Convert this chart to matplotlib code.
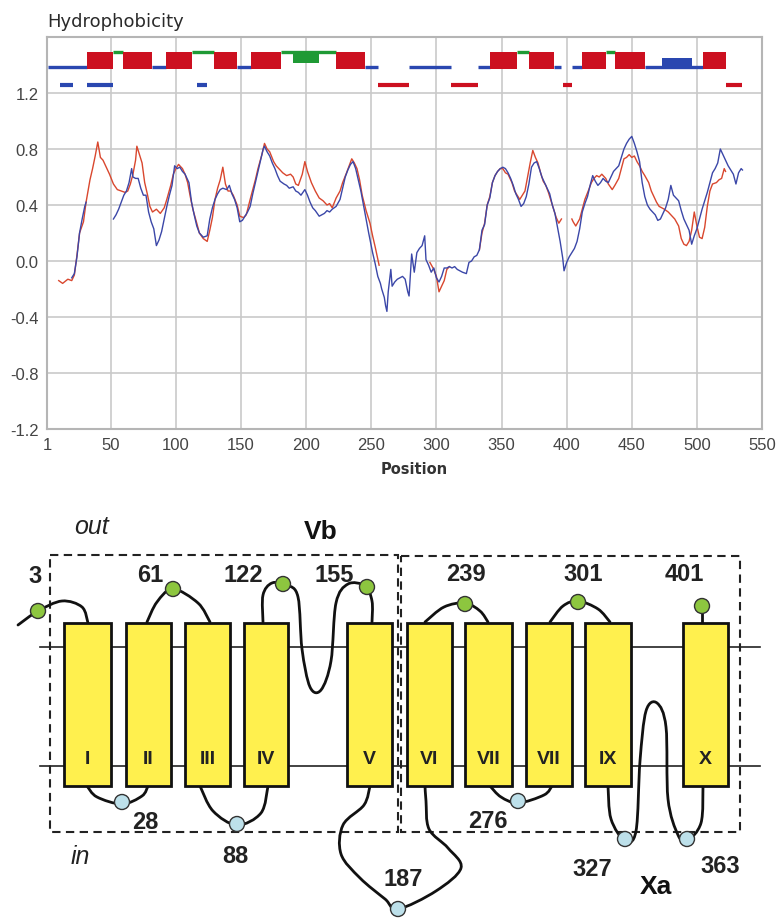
import numpy as np
import matplotlib.pyplot as plt
from matplotlib.patches import Rectangle, Circle, PathPatch
from matplotlib.path import Path

plt.rcParams['font.family'] = ['Liberation Sans', 'DejaVu Sans']

# ---- hydrophobicity profiles (NaN = break in the trace) ----
nan = np.nan
red_pos = [10, 13, 17, 20, 22, 24, 26, 29, 31, 34, 36, 38, 40, 42, 44, 47, 49, 52, 55, 58,
           61, 63, 65, 67, 69, 70, 72, 74, 76, 78, 80, 82, 85, 88, 91, 93, 96, 98, 100, 102,
           105, 107, 109, 111, 113, 116, 118, 121, 124, 126, 128, 130, 132, 134, 136, 138, 140, 142, 144, 147,
           149, 152, 154, 157, 159, 161, 163, 166, 168, 170, 172, 175, 177, 180, 182, 185, 188, 190, 192, 194,
           197, 199, 201, 204, 207, 210, 213, 216, 218, 220, 223, 226, 228, 231, 233, 235, 237, 239, 241, 243,
           246, 249, 251, 253, 256, 257,
           295, 298, 300, 302, 304, 306, 308, 310, 311,
           333, 335, 337, 339, 341, 343, 345, 347, 349, 351, 353, 355, 358, 360, 362, 364, 366, 368, 370, 372,
           374, 376, 378, 380, 382, 384, 386, 388, 390, 392, 394, 396, 397,
           404, 405, 407, 410, 412, 414, 417, 419, 421, 423, 425, 427, 430, 432, 435, 437, 440, 442, 444, 446,
           448, 450, 452, 454, 456, 458, 460, 463, 465, 467, 469, 471, 473, 475, 478, 480, 483, 486, 488, 490,
           492, 494, 496, 498, 500, 502, 504, 506, 508, 510, 512, 515, 517, 519, 521, 522]
red_val = [-0.14, -0.16, -0.13, -0.14, -0.10, 0.04, 0.20, 0.28, 0.42, 0.58, 0.66, 0.75, 0.85, 0.74, 0.72, 0.66, 0.62, 0.55, 0.51, 0.50,
           0.49, 0.50, 0.55, 0.62, 0.72, 0.82, 0.76, 0.70, 0.56, 0.48, 0.39, 0.35, 0.37, 0.34, 0.38, 0.44, 0.54, 0.62, 0.66, 0.69,
           0.66, 0.62, 0.56, 0.46, 0.37, 0.27, 0.20, 0.16, 0.14, 0.22, 0.31, 0.44, 0.52, 0.58, 0.67, 0.55, 0.50, 0.50, 0.47, 0.40,
           0.32, 0.31, 0.33, 0.44, 0.51, 0.58, 0.66, 0.76, 0.84, 0.80, 0.78, 0.71, 0.68, 0.65, 0.63, 0.61, 0.62, 0.60, 0.55, 0.54,
           0.62, 0.71, 0.64, 0.56, 0.50, 0.45, 0.43, 0.40, 0.41, 0.38, 0.45, 0.50, 0.56, 0.63, 0.68, 0.73, 0.70, 0.66, 0.58, 0.47,
           0.36, 0.27, 0.18, 0.10, -0.03, nan,
           -0.01, -0.06, -0.11, -0.22, -0.18, -0.14, -0.06, -0.04, nan,
           0.08, 0.20, 0.27, 0.40, 0.46, 0.56, 0.61, 0.64, 0.66, 0.66, 0.63, 0.62, 0.56, 0.50, 0.47, 0.44, 0.47, 0.50, 0.60, 0.70,
           0.79, 0.74, 0.70, 0.63, 0.57, 0.54, 0.49, 0.43, 0.37, 0.31, 0.27, 0.30, nan,
           0.30, 0.28, 0.25, 0.30, 0.37, 0.44, 0.51, 0.56, 0.59, 0.61, 0.60, 0.62, 0.59, 0.55, 0.51, 0.54, 0.59, 0.66, 0.73, 0.74,
           0.76, 0.74, 0.75, 0.71, 0.68, 0.64, 0.61, 0.56, 0.50, 0.46, 0.42, 0.39, 0.38, 0.37, 0.35, 0.33, 0.30, 0.25, 0.16, 0.12,
           0.11, 0.14, 0.22, 0.35, 0.25, 0.17, 0.16, 0.24, 0.39, 0.50, 0.55, 0.56, 0.58, 0.59, 0.66, 0.64]

blue_pos = [20, 22, 24, 26, 28, 30, 31, 32,
            52, 54, 56, 58, 60, 62, 64, 66, 67, 69, 71, 73, 75, 77, 79, 81, 83, 85, 87, 89, 91, 93,
            95, 97, 99, 101, 103, 105, 107, 110, 112, 114, 116, 118, 121, 124, 126, 128, 130, 132, 134, 136,
            139, 141, 143, 145, 147, 149, 151, 153, 155, 157, 159, 161, 163, 165, 167, 168, 170, 172, 174, 176,
            178, 180, 183, 185, 187, 190, 192, 194, 196, 199, 201, 203, 205, 207, 210, 212, 214, 216, 218, 220,
            223, 226, 228, 230, 232, 234, 236, 238, 240, 242, 244, 246, 248, 251, 253, 255, 257, 258, 260, 261,
            262, 263, 265, 266, 268, 270, 272, 274, 276, 278, 279, 281, 283, 285, 287, 289, 291, 292, 294, 296,
            298, 300, 302, 304, 306, 308, 310, 312, 314, 316, 318, 320, 323, 325, 327, 329, 331, 333, 335, 337,
            339, 341, 343, 345, 347, 349, 351, 353, 355, 357, 359, 361, 363, 365, 367, 369, 371, 373, 375, 377,
            379, 381, 383, 385, 387, 389, 391, 393, 395, 397, 398, 400, 402, 404, 406, 408, 410, 412, 414, 416,
            418, 420, 422, 424, 426, 428, 430, 432, 434, 436, 438, 440, 442, 444, 446, 448, 450, 452, 454, 456,
            458, 460, 462, 464, 466, 468, 470, 472, 474, 476, 478, 480, 482, 484, 486, 488, 490, 492, 494, 496,
            498, 500, 502, 504, 506, 508, 510, 512, 514, 516, 518, 520, 522, 524, 526, 528, 530, 532, 534, 535]
blue_val = [-0.12, -0.09, 0.03, 0.20, 0.30, 0.39, 0.42, nan,
            0.30, 0.33, 0.37, 0.42, 0.47, 0.50, 0.56, 0.66, 0.60, 0.59, 0.59, 0.52, 0.47, 0.47, 0.35, 0.28, 0.23, 0.11, 0.15, 0.21, 0.30, 0.39,
            0.47, 0.54, 0.68, 0.66, 0.67, 0.64, 0.62, 0.56, 0.42, 0.33, 0.25, 0.20, 0.17, 0.18, 0.30, 0.38, 0.44, 0.48, 0.51, 0.52,
            0.51, 0.54, 0.48, 0.44, 0.38, 0.28, 0.29, 0.32, 0.35, 0.39, 0.48, 0.56, 0.64, 0.72, 0.80, 0.82, 0.78, 0.75, 0.70, 0.66,
            0.61, 0.57, 0.55, 0.54, 0.52, 0.53, 0.50, 0.49, 0.47, 0.51, 0.47, 0.42, 0.38, 0.36, 0.32, 0.33, 0.34, 0.36, 0.35, 0.37,
            0.39, 0.44, 0.52, 0.60, 0.65, 0.69, 0.71, 0.66, 0.58, 0.50, 0.40, 0.30, 0.20, 0.06, -0.02, -0.11, -0.16, -0.20, -0.26, -0.32,
            -0.36, -0.22, -0.06, -0.18, -0.15, -0.13, -0.12, -0.11, -0.13, -0.22, -0.25, 0.05, -0.08, 0.06, 0.09, 0.11, 0.18, 0.01, -0.03, -0.08,
            -0.05, -0.12, -0.15, -0.11, -0.05, -0.05, -0.04, -0.05, -0.04, -0.06, -0.07, -0.08, -0.09, -0.01, 0.00, 0.03, 0.04, 0.08, 0.22, 0.26,
            0.40, 0.45, 0.56, 0.61, 0.64, 0.66, 0.67, 0.66, 0.63, 0.59, 0.54, 0.48, 0.44, 0.39, 0.41, 0.46, 0.55, 0.67, 0.70, 0.71,
            0.66, 0.60, 0.56, 0.52, 0.48, 0.40, 0.34, 0.24, 0.14, 0.02, -0.07, -0.01, 0.03, 0.06, 0.09, 0.14, 0.23, 0.35, 0.41, 0.46,
            0.54, 0.61, 0.57, 0.54, 0.56, 0.59, 0.57, 0.56, 0.60, 0.64, 0.66, 0.68, 0.74, 0.80, 0.84, 0.87, 0.89, 0.84, 0.78, 0.71,
            0.56, 0.46, 0.40, 0.37, 0.35, 0.33, 0.29, 0.30, 0.34, 0.38, 0.44, 0.54, 0.47, 0.45, 0.43, 0.36, 0.30, 0.26, 0.22, 0.12,
            0.18, 0.23, 0.30, 0.37, 0.43, 0.49, 0.56, 0.63, 0.66, 0.70, 0.80, 0.76, 0.72, 0.68, 0.65, 0.62, 0.55, 0.63, 0.66, 0.65]

# ---- topology track above the profile (start, end residue) ----
tm_red = [(32, 52), (59, 82), (92, 112), (129, 147), (158, 181), (223, 245),
          (341, 362), (371, 390), (412, 430), (437, 460), (505, 522)]
out_green = [(52, 59), (112, 129), (181, 223), (362, 371), (430, 437)]
in_blue = [(2, 32), (82, 92), (147, 158), (245, 255), (279, 311), (332, 341),
           (390, 396), (404, 412), (460, 505)]
green_box = [(190, 210)]
blue_box = [(473, 496)]
row2_blue = [(11, 21), (32, 52), (116, 124)]
row2_red = [(255, 279), (311, 332), (397, 404), (522, 535)]

xticks = [1, 50, 100, 150, 200, 250, 300, 350, 400, 450, 500, 550]
yticks = [-1.2, -0.8, -0.4, 0.0, 0.4, 0.8, 1.2]

# ---- topology diagram (drawn in pixel units of the bottom panel) ----
helix_x = [(64, 111), (126, 171), (185, 230), (244, 288), (347, 392),
           (407, 452), (465, 512), (526, 572), (585, 631), (683, 728)]
helix_names = ['I', 'II', 'III', 'IV', 'V', 'VI', 'VII', 'VII', 'IX', 'X']
helix_top, helix_bot = 624, 787
membrane_y = [648, 767]

out_sites = [(38, 612), (173, 590), (283, 585), (367, 588), (465, 605), (578, 603), (702, 607)]
in_sites = [(122, 803), (237, 825), (398, 910), (518, 802), (625, 840), (687, 840)]

loops = [
    [(18, 626), (38, 612), (62, 602), (82, 608), (88, 624)],
    [(87, 787), (97, 798), (122, 805), (142, 797), (148, 787)],
    [(147, 623), (157, 603), (173, 590), (198, 604), (210, 623)],
    [(200, 787), (213, 812), (237, 826), (261, 814), (268, 787)],
    [(263, 623), (263, 596), (272, 584), (287, 586), (298, 598), (302, 650), (310, 688),
     (321, 691), (331, 662), (336, 604), (348, 585), (365, 587), (372, 602), (372, 623)],
    [(370, 787), (364, 806), (343, 826), (341, 855), (360, 879), (385, 900), (398, 910),
     (436, 892), (461, 869), (448, 849), (429, 830), (426, 802), (425, 787)],
    [(425, 623), (444, 608), (465, 604), (480, 612), (488, 623)],
    [(490, 787), (501, 798), (518, 804), (544, 796), (552, 787)],
    [(550, 623), (563, 607), (578, 602), (598, 610), (610, 623)],
    [(608, 787), (611, 820), (625, 842), (636, 832), (640, 762), (646, 712), (657, 704),
     (666, 728), (668, 800), (678, 836), (687, 842), (701, 824), (703, 787)],
    [(702, 607), (702, 624)],
]
labels = [('3', 35, 577), ('61', 150, 576), ('122', 243, 576), ('155', 334, 576),
          ('239', 466, 575), ('301', 583, 575), ('401', 684, 575),
          ('28', 145, 823), ('88', 235, 857), ('187', 403, 880), ('276', 488, 822),
          ('327', 592, 870), ('363', 720, 867)]
boxes = [(50, 556, 398, 833), (401, 557, 740, 833)]


def through_path(pts):
    # Catmull-Rom through the points, written as cubic Bezier segments
    p = np.asarray(pts, float)
    if len(p) == 2:
        return Path(p, [Path.MOVETO, Path.LINETO])
    verts, codes = [p[0]], [Path.MOVETO]
    for i in range(len(p) - 1):
        p0 = p[i - 1] if i > 0 else p[i]
        p3 = p[i + 2] if i + 2 < len(p) else p[i + 1]
        c1 = p[i] + (p[i + 1] - p0) / 6
        c2 = p[i + 1] - (p3 - p[i]) / 6
        verts += [c1, c2, p[i + 1]]
        codes += [Path.CURVE4] * 3
    return Path(verts, codes)


fig = plt.figure(figsize=(7.77, 9.2), dpi=100)

# ---------------- hydrophobicity plot ----------------
ax = fig.add_axes([47 / 777, 1 - 430 / 920, 715 / 777, 392 / 920])
ax.plot(red_pos, red_val, color='#d9472e', lw=1.0, zorder=3)
ax.plot(blue_pos, blue_val, color='#3b47a8', lw=1.0, zorder=4)

lw_track = 2.4
for a, b in in_blue:
    ax.plot([a, b], [1.385, 1.385], color='#2a47b0', lw=lw_track, solid_capstyle='butt', zorder=3)
for a, b in out_green:
    ax.plot([a, b], [1.49, 1.49], color='#1f9a35', lw=lw_track, solid_capstyle='butt', zorder=3)
ax.broken_barh([(a, b - a) for a, b in tm_red], (1.372, 0.118), facecolor='#cc1020', zorder=4)
ax.broken_barh([(a, b - a) for a, b in green_box], (1.415, 0.075), facecolor='#1f9a35', zorder=4)
ax.broken_barh([(a, b - a) for a, b in blue_box], (1.382, 0.068), facecolor='#2a47b0', zorder=4)
for a, b in row2_blue:
    ax.plot([a, b], [1.257, 1.257], color='#2a47b0', lw=3, solid_capstyle='butt', zorder=3)
for a, b in row2_red:
    ax.plot([a, b], [1.257, 1.257], color='#cc1020', lw=3, solid_capstyle='butt', zorder=3)

ax.set_xlim(1, 550)
ax.set_ylim(-1.2, 1.6)
ax.set_xticks(xticks)
ax.set_yticks(yticks)
ax.set_yticklabels(['%.1f' % v for v in yticks])
tick_font = ['Liberation Sans Narrow', 'Liberation Sans', 'DejaVu Sans']
for t in ax.get_xticklabels() + ax.get_yticklabels():
    t.set_family(tick_font)
    t.set_fontsize(12)
    t.set_color('#444444')
ax.tick_params(length=0, pad=6)
ax.grid(color='#c9c9c9', lw=1.2)
ax.set_axisbelow(True)
for s in ax.spines.values():
    s.set_color('#b5b5b5')
    s.set_linewidth(1.5)

fig.text(47 / 777, 1 - 22 / 920, 'Hydrophobicity', family='DejaVu Sans',
         fontsize=13, color='#2a2a2a', ha='left', va='center')
fig.text(414 / 777, 1 - 470 / 920, 'Position', family='DejaVu Sans',
         fontsize=10.5, weight='bold', color='#333333', ha='center', va='center')

# ---------------- membrane topology diagram ----------------
dx = fig.add_axes([0, 0, 1, 440 / 920])
dx.set_xlim(0, 777)
dx.set_ylim(920, 480)
dx.axis('off')

for y in membrane_y:
    dx.plot([40, 760], [y, y], color='#222222', lw=1.2, zorder=1)
for x0, y0, x1, y1 in boxes:
    dx.add_patch(Rectangle((x0, y0), x1 - x0, y1 - y0, fill=False, ec='#222222',
                           lw=1.5, ls=(0, (4, 2.6)), zorder=1))
for pts in loops:
    dx.add_patch(PathPatch(through_path(pts), fill=False, ec='#111111', lw=2.0,
                           capstyle='round', zorder=2))
for (x0, x1), name in zip(helix_x, helix_names):
    dx.add_patch(Rectangle((x0, helix_top), x1 - x0, helix_bot - helix_top,
                           fc='#fff04e', ec='#111111', lw=2.0, zorder=3))
    dx.text((x0 + x1) / 2, 760, name, fontsize=14, weight='bold', color='#222222',
            ha='center', va='center', zorder=5)
for x, y in out_sites:
    dx.add_patch(Circle((x, y), 7.5, fc='#8dc63f', ec='#333333', lw=1.0, zorder=4))
for x, y in in_sites:
    dx.add_patch(Circle((x, y), 7.5, fc='#bde0ea', ec='#333333', lw=1.0, zorder=4))
for s, x, y in labels:
    dx.text(x, y, s, fontsize=17, weight='bold', color='#222222', ha='center', va='center', zorder=5)

dx.text(92, 527, 'out', fontsize=18, style='italic', color='#222222', ha='center', va='center')
dx.text(80, 857, 'in', fontsize=18, style='italic', color='#222222', ha='center', va='center')
dx.text(321, 532, 'Vb', fontsize=19, weight='bold', color='#111111', ha='center', va='center')
dx.text(656, 887, 'Xa', fontsize=19, weight='bold', color='#111111', ha='center', va='center')

fig.savefig('out.png', dpi=100)
